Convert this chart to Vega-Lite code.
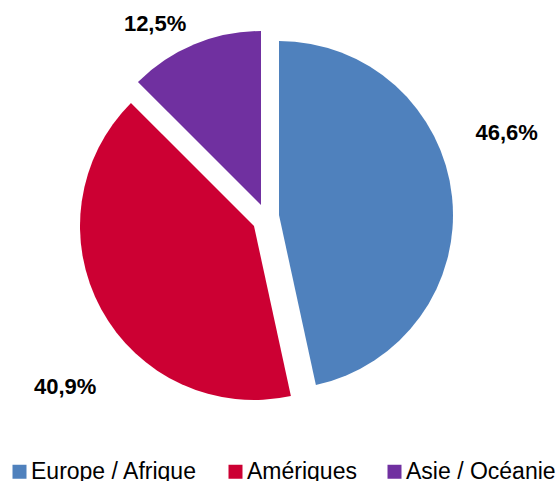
{
  "$schema": "https://vega.github.io/schema/vega-lite/v6.json",
  "width": 532,
  "height": 428,
  "autosize": "none",
  "padding": {"left": 0, "top": 0, "right": 25, "bottom": 53},
  "background": "white",
  "view": {"stroke": null},
  "data": {
    "values": [
      {"region": "Europe / Afrique", "share": 46.6, "label": "46,6%"},
      {"region": "Amériques", "share": 40.9, "label": "40,9%"},
      {"region": "Asie / Océanie", "share": 12.5, "label": "12,5%"}
    ]
  },
  "transform": [
    {"stack": "share", "groupby": [], "sort": [{"field": "share", "order": "descending"}], "as": ["s0", "s1"]}
  ],
  "encoding": {
    "theta": {"field": "s0", "type": "quantitative", "scale": {"domain": [0, 100]}},
    "theta2": {"field": "s1"},
    "color": {
      "field": "region",
      "type": "nominal",
      "scale": {
        "domain": ["Europe / Afrique", "Amériques", "Asie / Océanie"],
        "range": ["#4F81BD", "#CC0033", "#7030A0"]
      },
      "legend": {
        "title": null,
        "orient": "none",
        "legendX": 8,
        "legendY": 460,
        "direction": "horizontal",
        "symbolType": "square",
        "symbolSize": 196,
        "symbolStrokeWidth": 0,
        "symbolOpacity": 1,
        "labelFont": "Liberation Sans",
        "labelFontSize": 23,
        "labelColor": "black",
        "labelOffset": 0,
        "labelLimit": 400,
        "columnPadding": 26
      }
    }
  },
  "layer": [
    {
      "transform": [{"filter": "datum.region === 'Europe / Afrique'"}],
      "mark": {"type": "arc", "outerRadius": 174, "xOffset": 13, "yOffset": 1}
    },
    {
      "transform": [{"filter": "datum.region === 'Amériques'"}],
      "mark": {"type": "arc", "outerRadius": 174, "xOffset": -12, "yOffset": 12}
    },
    {
      "transform": [{"filter": "datum.region === 'Asie / Océanie'"}],
      "mark": {"type": "arc", "outerRadius": 174, "xOffset": -5, "yOffset": -9}
    },
    {
      "transform": [{"filter": "datum.region === 'Europe / Afrique'"}],
      "mark": {"type": "text", "radius": 254, "thetaOffset": 1.246, "font": "Liberation Sans", "fontWeight": "bold", "fontSize": 22, "align": "center", "baseline": "middle"},
      "encoding": {"text": {"field": "label"}, "color": {"value": "black"}}
    },
    {
      "transform": [{"filter": "datum.region === 'Amériques'"}],
      "mark": {"type": "text", "radius": 265, "thetaOffset": 1.074, "font": "Liberation Sans", "fontWeight": "bold", "fontSize": 22, "align": "center", "baseline": "middle"},
      "encoding": {"text": {"field": "label"}, "color": {"value": "black"}}
    },
    {
      "transform": [{"filter": "datum.region === 'Asie / Océanie'"}],
      "mark": {"type": "text", "radius": 220, "thetaOffset": 0.257, "font": "Liberation Sans", "fontWeight": "bold", "fontSize": 22, "align": "center", "baseline": "middle"},
      "encoding": {"text": {"field": "label"}, "color": {"value": "black"}}
    }
  ]
}
